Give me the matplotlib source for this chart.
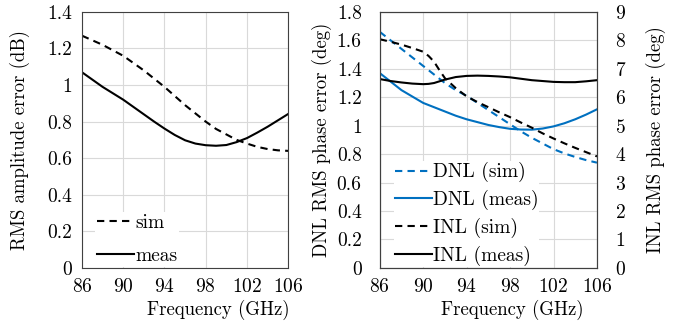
import numpy as np
import matplotlib.pyplot as plt

plt.rcParams['font.family'] = ['cmr10', 'DejaVu Serif']
plt.rcParams['axes.formatter.use_mathtext'] = True
plt.rcParams['font.size'] = 14

freq = [86, 87, 88, 89, 90, 91, 92, 93, 94, 95, 96,
        97, 98, 99, 100, 101, 102, 103, 104, 105, 106]

# left panel: RMS amplitude error (dB)
amp_sim = [1.27, 1.245, 1.22, 1.19, 1.16, 1.12, 1.08, 1.035, 0.99, 0.94, 0.89,
           0.845, 0.80, 0.76, 0.73, 0.70, 0.68, 0.662, 0.65, 0.643, 0.64]
amp_meas = [1.07, 1.03, 0.99, 0.955, 0.92, 0.88, 0.84, 0.80, 0.762, 0.727, 0.698,
            0.68, 0.671, 0.668, 0.672, 0.688, 0.71, 0.74, 0.772, 0.807, 0.842]

# right panel: phase errors (deg)
dnl_sim = [1.66, 1.60, 1.54, 1.48, 1.42, 1.36, 1.30, 1.25, 1.21, 1.16, 1.11,
           1.06, 1.01, 0.96, 0.915, 0.875, 0.835, 0.805, 0.78, 0.758, 0.74]
dnl_meas = [1.37, 1.31, 1.25, 1.205, 1.16, 1.13, 1.10, 1.07, 1.045, 1.025, 1.005,
            0.99, 0.978, 0.973, 0.972, 0.98, 0.995, 1.017, 1.045, 1.078, 1.115]
inl_freq = [86, 87, 88, 89, 90, 90.5, 91, 91.5, 92, 93, 94, 95, 96,
            97, 98, 99, 100, 101, 102, 103, 104, 105, 106]
inl_sim = [8.04, 7.95, 7.85, 7.73, 7.60, 7.45, 7.25, 6.95, 6.67, 6.32, 6.03, 5.83, 5.65,
           5.47, 5.30, 5.11, 4.93, 4.73, 4.55, 4.38, 4.22, 4.07, 3.92]
inl_meas = [6.64, 6.57, 6.52, 6.48, 6.46, 6.47, 6.50, 6.56, 6.62, 6.71, 6.75, 6.76, 6.75,
            6.73, 6.70, 6.65, 6.60, 6.57, 6.54, 6.53, 6.53, 6.56, 6.60]

blue = '#0070c0'
grid_c = '#d9d9d9'
spine_c = '#404040'
xticks = [86, 90, 94, 98, 102, 106]

fig = plt.figure(figsize=(6.83, 3.22), dpi=100)
ax1 = fig.add_axes([0.120, 0.168, 0.302, 0.795])
ax2 = fig.add_axes([0.556, 0.168, 0.318, 0.795])
ax3 = ax2.twinx()

dash = (0, (3.5, 2.5))

ax1.plot(freq, amp_sim, color='black', lw=1.5, linestyle=dash, label='sim')
ax1.plot(freq, amp_meas, color='black', lw=1.5, label='meas')
ax1.set_xlim(86, 106)
ax1.set_ylim(0, 1.4)
ax1.set_xticks(xticks)
ax1.set_yticks(np.arange(0, 1.41, 0.2))
ax1.set_yticklabels(['0', '0.2', '0.4', '0.6', '0.8', '1', '1.2', '1.4'])
ax1.set_xlabel('Frequency (GHz)', fontsize=13.5)
ax1.set_ylabel('RMS amplitude error (dB)', fontsize=13.5)
ax1.xaxis.set_label_coords(0.66, -0.125)
ax1.yaxis.set_label_coords(-0.25, 0.5)
ax1.legend(loc='lower left', frameon=True, edgecolor='none', fancybox=False,
           framealpha=1, handlelength=1.9, handletextpad=0.05,
           borderaxespad=0.0, labelspacing=0.8, borderpad=0.1,
           bbox_to_anchor=(0.065, 0.003))

l1, = ax2.plot(freq, dnl_sim, color=blue, lw=1.5, linestyle=dash, label='DNL (sim)')
l2, = ax2.plot(freq, dnl_meas, color=blue, lw=1.5, label='DNL (meas)')
l3, = ax3.plot(inl_freq, inl_sim, color='black', lw=1.5, linestyle=dash, label='INL (sim)')
l4, = ax3.plot(inl_freq, inl_meas, color='black', lw=1.5, label='INL (meas)')
ax2.set_xlim(86, 106)
ax2.set_ylim(0, 1.8)
ax3.set_ylim(0, 9)
ax2.set_xticks(xticks)
ax2.set_yticks(np.arange(0, 1.81, 0.2))
ax2.set_yticklabels(['0', '0.2', '0.4', '0.6', '0.8', '1', '1.2', '1.4', '1.6', '1.8'])
ax3.set_yticks(range(0, 10))
ax2.set_xlabel('Frequency (GHz)', fontsize=13.5)
ax2.set_ylabel('DNL RMS phase error (deg)', fontsize=13.5)
ax3.set_ylabel('INL RMS phase error (deg)', fontsize=13.5)
ax2.xaxis.set_label_coords(0.61, -0.125)
ax2.yaxis.set_label_coords(-0.221, 0.5)
ax3.yaxis.set_label_coords(1.226, 0.5)
leg = ax3.legend(handles=[l1, l2, l3, l4], loc='lower left', frameon=True,
                 edgecolor='none', fancybox=False, framealpha=1,
                 handlelength=1.9, handletextpad=0.05, borderaxespad=0.0,
                 labelspacing=0.4, borderpad=0.05, bbox_to_anchor=(0.065, 0.003))

ax1.tick_params(length=0, pad=7)
ax2.tick_params(axis='y', length=0, pad=13)
ax2.tick_params(axis='x', length=0, pad=7)
ax3.tick_params(length=0, pad=13)
for ax in (ax1, ax2, ax3):
    for s in ax.spines.values():
        s.set_color(spine_c)
for ax in (ax1, ax2):
    ax.grid(True, color=grid_c, lw=0.8)
    ax.set_axisbelow(True)

fig.savefig('out.png', dpi=100)
